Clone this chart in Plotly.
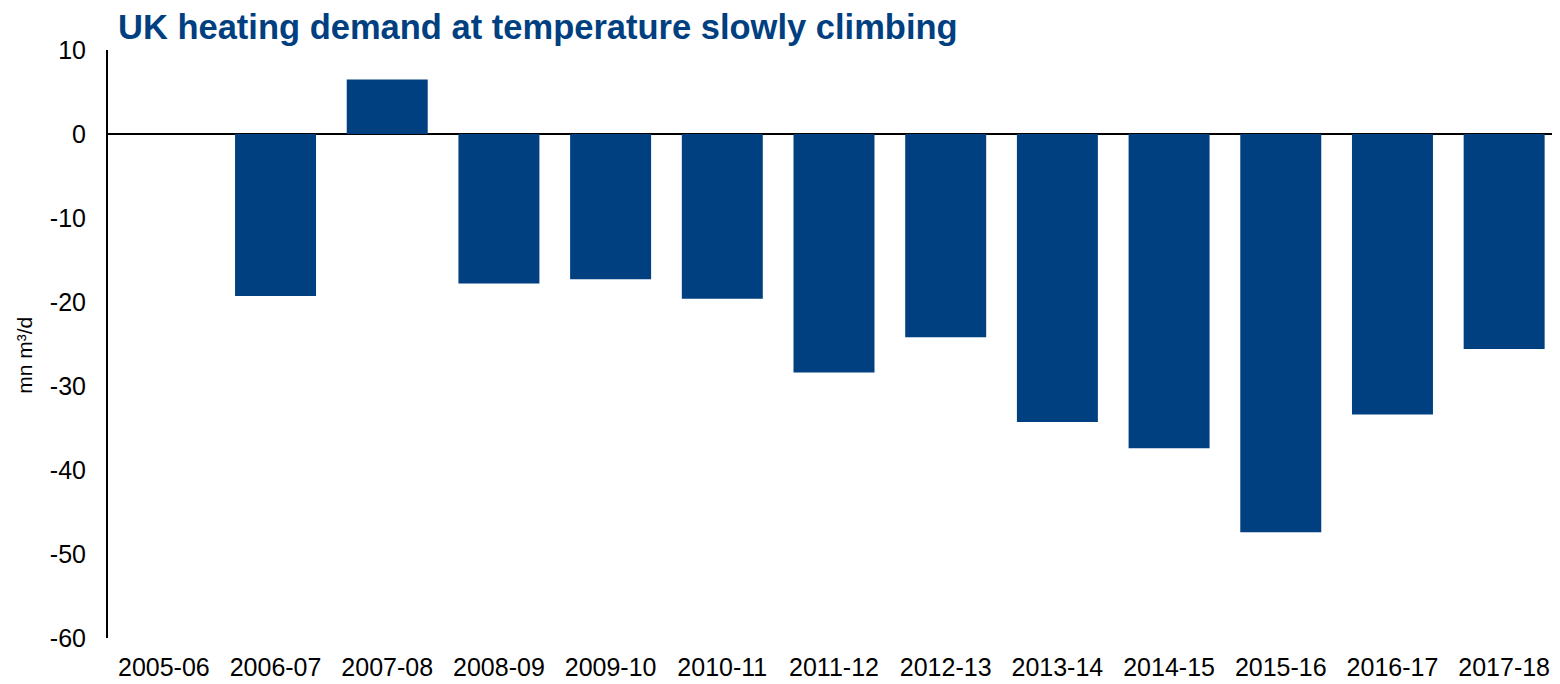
import plotly.graph_objects as go

seasons = ["2005-06", "2006-07", "2007-08", "2008-09", "2009-10", "2010-11", "2011-12",
           "2012-13", "2013-14", "2014-15", "2015-16", "2016-17", "2017-18"]
demand_change = [0, -19.3, 6.5, -17.8, -17.3, -19.6, -28.4,
                 -24.2, -34.3, -37.4, -47.4, -33.4, -25.6]
y_ticks = [10, 0, -10, -20, -30, -40, -50, -60]
y_tick_labels = ["10", "0", "-10", "-20", "-30", "-40", "-50", "-60"]

navy = "#003F80"

fig = go.Figure()
fig.add_trace(go.Bar(x=seasons, y=demand_change, marker=dict(color=navy, line=dict(width=0)),
                     hovertemplate="%{x}<br>%{y:.1f} mn m³/d<extra></extra>"))

# page body has an 8px margin, so the figure is sized 8px smaller than the window
fig.update_layout(
    width=1552, height=676,
    margin=dict(l=100, r=0, t=42, b=46),
    paper_bgcolor="white", plot_bgcolor="white",
    font=dict(family="Liberation Sans, Arial, sans-serif", color="black", size=25),
    title=dict(text="<b>UK heating demand at temperature slowly climbing</b>",
               font=dict(size=34.5, color=navy), x=110 / 1552, xanchor="left",
               yref="container", y=0.99, yanchor="top", pad=dict(t=0)),
    bargap=0.275,
    showlegend=False,
)
# y-axis title sits a little below the plot's middle in the original
fig.add_annotation(text="mn m³/d", textangle=-90, showarrow=False,
                   xref="paper", yref="paper", x=-83 / 1452, y=0.48,
                   xanchor="center", yanchor="middle", font=dict(size=21))
fig.update_xaxes(type="category", showline=False, showgrid=False, ticks="",
                 tickfont=dict(size=25), ticklabelstandoff=12)
fig.update_yaxes(range=[-60, 10], tickvals=y_ticks, ticktext=y_tick_labels, showgrid=False,
                 showline=True, linecolor="black", linewidth=2, ticks="",
                 zeroline=True, zerolinecolor="black", zerolinewidth=2,
                 tickfont=dict(size=25), ticklabelstandoff=15)

fig.write_html("out.html")
